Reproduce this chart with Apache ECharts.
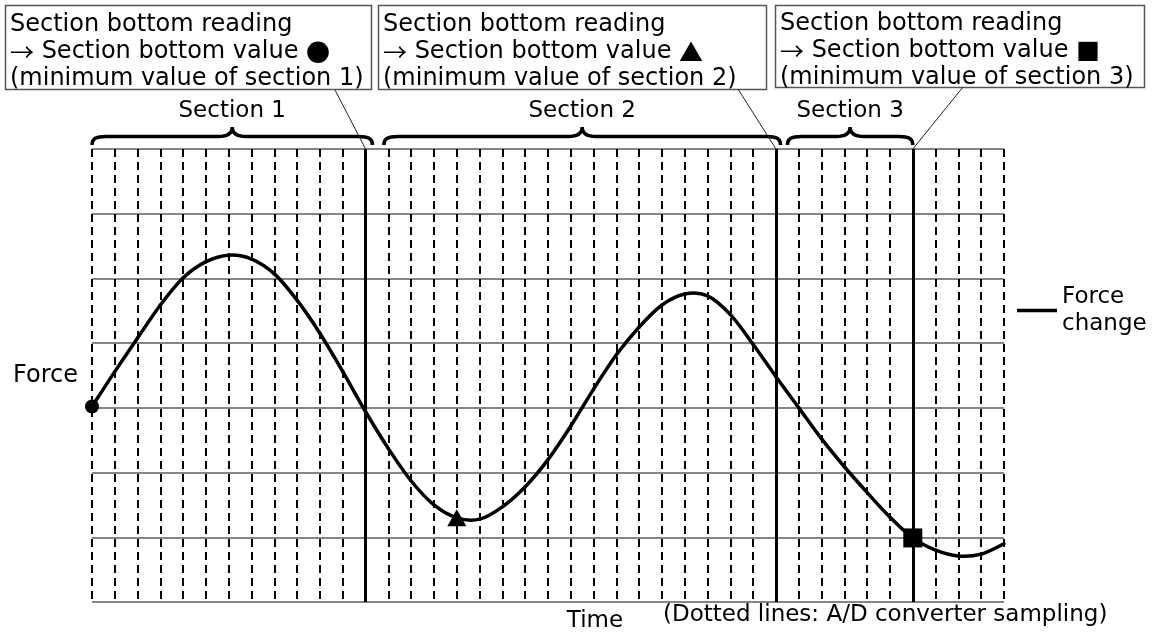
<!DOCTYPE html>
<html>
<head>
<meta charset="utf-8">
<script src="https://cdn.jsdelivr.net/npm/echarts@6/dist/echarts.min.js"></script>
<style>
html,body{margin:0;padding:0;background:#fff;}
#chart{width:1160px;height:640px;}
</style>
</head>
<body>
<div id="chart"></div>
<script>
// ---------------- data ----------------
// A/D sampling instants (dotted lines) 0..40
const samples = Array.from({length: 41}, (_, i) => i);
// force read at each sampling instant (grid units, 0..7)
const force = [3.02, 3.56, 4.08, 4.59, 5.01, 5.26, 5.36, 5.30, 5.07, 4.66,
               4.15, 3.56, 2.94, 2.37, 1.87, 1.50, 1.30, 1.28, 1.47, 1.78,
               2.20, 2.72, 3.29, 3.82, 4.25, 4.59, 4.76, 4.73, 4.44, 3.98,
               3.48, 3.00, 2.52, 2.09, 1.69, 1.31, 0.99, 0.80, 0.71, 0.74, 0.90];
const sectionLabels = ['Section 1', 'Section 2', 'Section 3'];
const sectionEnds = [12, 30, 36];          // solid vertical lines (end of each section)
const braceStart = [0, 12.8, 30.5];
const braceEnd = [12.3, 30.2, 36];
const minIndex = [0, 16, 36];              // section bottom sample
const minSymbols = ['circle', 'triangle', 'rect'];
const boxTexts = [
  'Section bottom reading\n{s|\u2192} Section bottom value {s|\u25CF}\n(minimum value of section 1)',
  'Section bottom reading\n{s|\u2192} Section bottom value {s|\u25B2}\n(minimum value of section 2)',
  'Section bottom reading\n{s|\u2192} Section bottom value {s|\u25A0}\n(minimum value of section 3)'
];
const seriesName = 'Force\nchange';
const xName = 'Time';
const yName = 'Force';
const noteText = '(Dotted lines: A/D converter sampling)';

// ---------------- layout ----------------
const FONT = "'DejaVu Sans', sans-serif";
const CJK = "'Noto Sans CJK JP', sans-serif";
const FS = 23;
const boxRects = [[5.5, 5.5, 366, 84], [378.5, 5.5, 388, 84], [775.5, 5.5, 369, 82]];
const boxTextPos = [[10, 11], [383, 11], [780, 10]];
const leaderStart = [[335, 90], [738, 89], [963, 87]];
const Y_MAX = 7;
const symbolSizes = {circle: 14, triangle: [19, 17], rect: 19};

const chart = echarts.init(document.getElementById('chart'), null, {renderer: 'canvas'});

const graphic = [];
boxRects.forEach((r, i) => {
  graphic.push({
    type: 'rect', shape: {x: r[0], y: r[1], width: r[2], height: r[3]},
    style: {fill: 'none', stroke: '#555', lineWidth: 1.5}, silent: true
  });
  graphic.push({
    type: 'text', x: boxTextPos[i][0], y: boxTextPos[i][1],
    style: {
      text: boxTexts[i], fontSize: 24, fontFamily: FONT, fill: '#000', lineHeight: 27,
      align: 'left', verticalAlign: 'top',
      rich: {s: {fontFamily: CJK, fontSize: 24, lineHeight: 27, fill: '#000'}}
    },
    silent: true
  });
});
graphic.push({
  type: 'text', x: 663, y: 615,
  style: {text: noteText, fontSize: FS, fontFamily: FONT, fill: '#000', align: 'left', verticalAlign: 'middle'},
  silent: true
});

// smooth curve: one cubic (Catmull-Rom) segment per sampling interval, via the axes' scales
function renderCurve(params, api) {
  const n = params.dataInsideLength;
  const i = params.dataIndexInside;
  if (i >= n - 1) return null;
  const pt = k => {
    const kk = Math.max(0, Math.min(n - 1, k));
    return api.coord([api.value(0, kk), api.value(1, kk)]);
  };
  const p0 = pt(i - 1), p1 = pt(i), p2 = pt(i + 1), p3 = pt(i + 2);
  return {
    type: 'bezierCurve',
    shape: {
      x1: p1[0], y1: p1[1], x2: p2[0], y2: p2[1],
      cpx1: p1[0] + (p2[0] - p0[0]) / 6, cpy1: p1[1] + (p2[1] - p0[1]) / 6,
      cpx2: p2[0] - (p3[0] - p1[0]) / 6, cpy2: p2[1] - (p3[1] - p1[1]) / 6
    },
    style: {fill: null, stroke: '#000', lineWidth: 3.5, lineCap: 'round'}
  };
}

const option = {
  backgroundColor: '#fff',
  animation: false,
  grid: {left: 92, right: 156, top: 149, bottom: 38, containLabel: false},
  legend: {
    data: [seriesName], left: 1017, top: 280, padding: 0,
    icon: 'rect', itemWidth: 40, itemHeight: 3.5,
    textStyle: {fontSize: FS, fontFamily: FONT, color: '#000', lineHeight: 27, padding: [7, 0, 0, 0]},
    selectedMode: false
  },
  xAxis: {
    type: 'value', min: 0, max: 40, interval: 1, z: 3,
    axisLine: {show: false}, axisTick: {show: false}, axisLabel: {show: false},
    splitLine: {show: true, lineStyle: {color: '#000', width: 2, type: [8, 5]}},
    name: xName, nameLocation: 'middle', nameGap: 8,
    nameTextStyle: {fontSize: FS, fontFamily: FONT, color: '#000', padding: [0, 0, 0, 94]}
  },
  yAxis: {
    type: 'value', min: 0, max: Y_MAX, interval: 1, z: 2,
    axisLine: {show: false}, axisTick: {show: false}, axisLabel: {show: false},
    splitLine: {show: true, lineStyle: {color: '#858585', width: 2}},
    name: yName, nameLocation: 'middle', nameRotate: 0, nameGap: 14,
    nameTextStyle: {fontSize: 24, fontFamily: FONT, color: '#000', align: 'right', padding: [0, 0, 12, 0]}
  },
  graphic: graphic,
  series: [
    {
      name: seriesName, type: 'custom', z: 5, clip: false, silent: true,
      coordinateSystem: 'cartesian2d',
      encode: {x: 0, y: 1},
      itemStyle: {color: '#000'},
      data: samples.map((s, i) => [s, force[i]]),
      renderItem: renderCurve
    },
    {
      name: 'bottoms', type: 'scatter', z: 6,
      itemStyle: {color: '#000', opacity: 1},
      data: minIndex.map((idx, i) => ({
        value: [samples[idx], force[idx]],
        symbol: minSymbols[i], symbolSize: symbolSizes[minSymbols[i]]
      })),
      markLine: {
        silent: true, symbol: ['none', 'none'], animation: false,
        label: {show: false},
        lineStyle: {color: '#000', width: 3, type: 'solid', opacity: 1},
        data: sectionEnds.map(x => ({xAxis: x}))
      }
    },
    {
      name: 'braces', type: 'custom', z: 7, clip: false, silent: true,
      coordinateSystem: 'cartesian2d',
      encode: {x: [0, 1], y: 2},
      data: sectionLabels.map((l, i) => [braceStart[i], braceEnd[i], i]),
      renderItem: function (params, api) {
        const i = params.dataIndex;
        const p0 = api.coord([api.value(0), Y_MAX]);
        const p1 = api.coord([api.value(1), Y_MAX]);
        const x0 = p0[0], x1 = p1[0], top = p0[1];
        const xm = (x0 + x1) / 2;
        const hy = top - 12.5, ty = top - 4, py = top - 22;
        const d = 'M' + x0 + ' ' + ty +
          ' C' + x0 + ' ' + (hy + 2) + ' ' + (x0 + 4) + ' ' + hy + ' ' + (x0 + 14) + ' ' + hy +
          ' L' + (xm - 14) + ' ' + hy +
          ' C' + (xm - 5) + ' ' + hy + ' ' + xm + ' ' + (hy - 3) + ' ' + xm + ' ' + py +
          ' C' + xm + ' ' + (hy - 3) + ' ' + (xm + 5) + ' ' + hy + ' ' + (xm + 14) + ' ' + hy +
          ' L' + (x1 - 14) + ' ' + hy +
          ' C' + (x1 - 4) + ' ' + hy + ' ' + x1 + ' ' + (hy + 2) + ' ' + x1 + ' ' + ty;
        const end = api.coord([sectionEnds[i], Y_MAX]);
        return {
          type: 'group',
          children: [
            {type: 'path', shape: {pathData: d}, style: {fill: 'none', stroke: '#000', lineWidth: 3.5}},
            {type: 'text', style: {text: sectionLabels[i], x: xm, y: top - 38, align: 'center', verticalAlign: 'middle',
              fontSize: FS, fontFamily: FONT, fill: '#000'}},
            {type: 'line', shape: {x1: leaderStart[i][0], y1: leaderStart[i][1], x2: end[0], y2: end[1]},
              style: {stroke: '#222', lineWidth: 1}}
          ]
        };
      }
    }
  ]
};
chart.setOption(option);
</script>
</body>
</html>
